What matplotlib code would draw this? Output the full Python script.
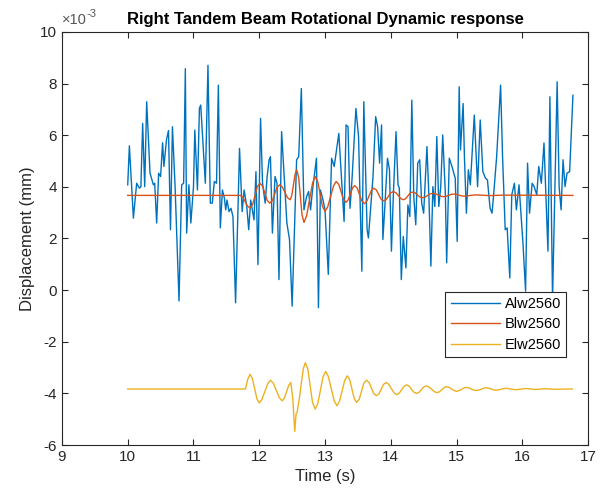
import matplotlib
matplotlib.use("Agg")
import matplotlib.pyplot as plt
from matplotlib.ticker import FuncFormatter

# Alw2560 (values in units of 1e-3 mm)
t_a = [10.00, 10.025, 10.086, 10.136, 10.177, 10.20, 10.227, 10.258, 10.288, 10.339,
       10.39, 10.41, 10.44, 10.47, 10.50, 10.53, 10.55, 10.59, 10.62, 10.65,
       10.68, 10.72, 10.78, 10.82, 10.85, 10.876, 10.896, 10.93, 10.96, 11.00,
       11.02, 11.06, 11.09, 11.11, 11.15, 11.18, 11.22, 11.256, 11.286, 11.317,
       11.35, 11.378, 11.408, 11.44, 11.47, 11.49, 11.51, 11.54, 11.57, 11.60,
       11.64, 11.70, 11.74, 11.77, 11.81, 11.84, 11.87, 11.92, 11.95, 11.98,
       12.02, 12.05, 12.09, 12.12, 12.15, 12.17, 12.20, 12.24, 12.27, 12.30,
       12.34, 12.39, 12.42, 12.46, 12.50, 12.568, 12.60, 12.64, 12.68, 12.72,
       12.75, 12.78, 12.81, 12.87, 12.90, 12.93, 12.97, 13.00, 13.05, 13.10,
       13.14, 13.21, 13.24, 13.29, 13.32, 13.35, 13.38, 13.41, 13.47, 13.51,
       13.56, 13.59, 13.64, 13.66, 13.73, 13.77, 13.80, 13.83, 13.86, 13.88,
       13.91, 13.95, 13.98, 14.01, 14.04, 14.08, 14.11, 14.13, 14.16, 14.19,
       14.23, 14.26, 14.29, 14.32, 14.35, 14.38, 14.41, 14.44, 14.47, 14.50,
       14.55, 14.58, 14.61, 14.64, 14.67, 14.70, 14.73, 14.76, 14.79, 14.83,
       14.85, 14.89, 14.93, 14.98, 15.01, 15.04, 15.06, 15.10, 15.12, 15.15,
       15.18, 15.21, 15.27, 15.32, 15.36, 15.40, 15.44, 15.47, 15.51, 15.54,
       15.57, 15.61, 15.67, 15.70, 15.74, 15.77, 15.81, 15.84, 15.88, 15.91,
       15.95, 15.98, 16.01, 16.05, 16.08, 16.11, 16.15, 16.18, 16.22, 16.25,
       16.29, 16.33, 16.36, 16.39, 16.42, 16.46, 16.50, 16.53, 16.56, 16.59,
       16.62, 16.65, 16.68, 16.72, 16.77]
v_a = [4.08, 5.59, 2.79, 4.14, 3.95, 4.00, 6.46, 4.01, 7.30, 4.53,
       4.08, 4.14, 2.60, 4.53, 4.40, 5.71, 4.79, 5.84, 6.18, 2.34,
       6.33, 4.01, -0.42, 4.08, 4.14, 8.58, 2.21, 4.08, 2.60, 4.01,
       6.20, 3.88, 7.04, 7.17, 5.43, 4.14, 8.71, 3.37, 3.37, 4.21,
       4.14, 7.94, 2.41, 3.88, 3.56, 3.11, 3.49, 3.04, 3.17, 2.85,
       -0.49, 5.49, 3.04, 3.88, 3.24, 2.34, 3.49, 2.72, 4.59, 0.99,
       6.65, 4.14, 3.37, 4.40, 5.05, 5.17, 2.21, 4.40, 4.14, 0.41,
       6.14, 3.88, 2.60, 1.96, -0.62, 5.05, 5.17, 7.81, 3.11, 3.62,
       3.82, 3.11, 3.88, 5.11, -0.68, 3.88, 3.49, 3.11, 0.61, 5.11,
       4.79, 6.07, 4.79, 2.66, 6.40, 6.33, 3.17, 4.27, 7.04, 5.95,
       0.73, 7.30, 2.34, 2.02, 4.40, 6.72, 6.33, 4.92, 6.40, 1.96,
       3.24, 5.11, 4.66, 1.51, 3.75, 6.14, 4.08, 3.95, 0.41, 2.08,
       0.86, 3.30, 2.85, 7.36, 3.62, 2.53, 4.92, 5.05, 3.37, 2.98,
       5.56, 3.62, 0.93, 4.01, 3.24, 5.95, 3.24, 4.01, 6.01, 3.75,
       1.06, 5.11, 4.79, 4.34, 1.89, 7.88, 5.43, 7.23, 5.17, 2.98,
       4.66, 4.08, 6.78, 4.01, 6.59, 4.59, 4.34, 4.27, 3.17, 2.98,
       3.88, 5.17, 7.94, 5.17, 2.34, 2.41, 0.47, 3.69, 4.14, 3.11,
       4.08, 2.98, 1.82, -0.04, 4.92, 2.98, 4.14, 4.01, 3.69, 4.79,
       4.14, 5.70, 3.62, 1.51, 7.49, -0.36, 4.40, 8.07, 4.01, 3.11,
       5.05, 4.01, 4.53, 4.59, 7.55]

# Blw2560
t_b = [10.00, 11.71, 11.75, 11.785, 11.82, 11.86, 11.90, 11.935, 11.97, 12.01,
       12.05, 12.085, 12.12, 12.16, 12.20, 12.235, 12.27, 12.31, 12.35, 12.39,
       12.43, 12.47, 12.495, 12.52, 12.545, 12.57, 12.60, 12.625, 12.65, 12.68,
       12.72, 12.765, 12.81, 12.85, 12.89, 12.925, 12.96, 13.00, 13.04, 13.085,
       13.13, 13.17, 13.21, 13.245, 13.28, 13.32, 13.35, 13.385, 13.42, 13.45,
       13.49, 13.525, 13.56, 13.60, 13.635, 13.67, 13.705, 13.74, 13.78, 13.815,
       13.85, 13.89, 13.93, 13.965, 14.00, 14.04, 14.08, 14.115, 14.15, 14.19,
       14.225, 14.26, 14.295, 14.33, 14.37, 14.405, 14.44, 14.48, 14.52, 14.56,
       14.60, 14.64, 14.68, 14.72, 14.76, 14.80, 14.84, 14.88, 14.92, 14.96,
       15.00, 15.04, 15.08, 15.12, 15.165, 15.21, 15.255, 15.30, 15.50, 15.70,
       16.77]
v_b = [3.67, 3.67, 3.60, 3.43, 3.26, 3.18, 3.32, 3.66, 4.00, 4.14,
       4.03, 3.76, 3.48, 3.37, 3.47, 3.73, 3.98, 4.08, 4.00, 3.79,
       3.58, 3.50, 3.67, 4.08, 4.49, 4.66, 4.36, 3.64, 2.92, 2.62,
       2.88, 3.51, 4.14, 4.40, 4.20, 3.73, 3.25, 3.05, 3.22, 3.63,
       4.04, 4.21, 4.09, 3.81, 3.52, 3.40, 3.49, 3.73, 3.96, 4.05,
       3.95, 3.70, 3.45, 3.35, 3.44, 3.65, 3.86, 3.95, 3.88, 3.71,
       3.53, 3.46, 3.51, 3.64, 3.77, 3.82, 3.77, 3.66, 3.55, 3.50,
       3.54, 3.65, 3.76, 3.80, 3.77, 3.69, 3.61, 3.58, 3.60, 3.67,
       3.73, 3.75, 3.73, 3.69, 3.64, 3.62, 3.63, 3.67, 3.71, 3.72,
       3.71, 3.68, 3.65, 3.64, 3.65, 3.67, 3.68, 3.69, 3.66, 3.68,
       3.67]

# Elw2560
t_e = [10.00, 11.79, 11.825, 11.86, 11.895, 11.93, 11.965, 12.00, 12.04, 12.085,
       12.13, 12.17, 12.215, 12.26, 12.305, 12.35, 12.38, 12.415, 12.45, 12.48,
       12.51, 12.54, 12.56, 12.575, 12.61, 12.64, 12.67, 12.70, 12.74, 12.775,
       12.81, 12.85, 12.89, 12.93, 12.97, 13.01, 13.05, 13.095, 13.14, 13.18,
       13.22, 13.26, 13.30, 13.34, 13.375, 13.41, 13.445, 13.48, 13.52, 13.555,
       13.59, 13.63, 13.67, 13.705, 13.74, 13.78, 13.82, 13.855, 13.89, 13.93,
       13.97, 14.01, 14.05, 14.09, 14.13, 14.165, 14.20, 14.24, 14.28, 14.315,
       14.35, 14.39, 14.43, 14.465, 14.50, 14.54, 14.58, 14.62, 14.66, 14.70,
       14.74, 14.775, 14.81, 14.85, 14.89, 14.925, 14.96, 15.00, 15.04, 15.075,
       15.11, 15.15, 15.19, 15.225, 15.26, 15.30, 15.34, 15.375, 15.41, 15.45,
       15.49, 15.525, 15.56, 15.60, 15.75, 15.90, 16.05, 16.20, 16.35, 16.50,
       16.76]
v_e = [-3.83, -3.83, -3.45, -3.26, -3.42, -3.82, -4.21, -4.37, -4.24, -3.93,
       -3.62, -3.49, -3.61, -3.89, -4.17, -4.29, -4.19, -3.94, -3.68, -3.58,
       -4.20, -5.47, -4.80, -4.74, -4.20, -3.60, -3.05, -2.81, -3.07, -3.71,
       -4.35, -4.61, -4.40, -3.88, -3.36, -3.15, -3.34, -3.82, -4.29, -4.48,
       -4.31, -3.90, -3.49, -3.32, -3.47, -3.84, -4.20, -4.35, -4.23, -3.92,
       -3.61, -3.49, -3.58, -3.79, -4.00, -4.09, -4.02, -3.84, -3.65, -3.58,
       -3.65, -3.82, -3.98, -4.05, -3.99, -3.86, -3.73, -3.67, -3.72, -3.84,
       -3.95, -4.00, -3.96, -3.86, -3.75, -3.71, -3.75, -3.84, -3.93, -3.97,
       -3.94, -3.86, -3.77, -3.74, -3.77, -3.83, -3.89, -3.92, -3.89, -3.85,
       -3.79, -3.77, -3.79, -3.83, -3.87, -3.89, -3.87, -3.84, -3.80, -3.78,
       -3.80, -3.83, -3.86, -3.88, -3.80, -3.86, -3.81, -3.85, -3.82, -3.84,
       -3.83]

labels = ["Alw2560", "Blw2560", "Elw2560"]
colors = ["#0072BD", "#D95319", "#EDB120"]

plt.rcParams.update({
    "font.family": ["Liberation Sans", "DejaVu Sans"],
    "font.size": 11,
    "axes.unicode_minus": False,
    "axes.edgecolor": "#262626",
    "xtick.color": "#262626",
    "ytick.color": "#262626",
    "xtick.direction": "in",
    "ytick.direction": "in",
})

fig = plt.figure(figsize=(6.04, 4.99), dpi=100)
ax = fig.add_axes([0.1026, 0.1082, 0.871, 0.8277])

for t, v, lab, c in zip([t_a, t_b, t_e], [v_a, v_b, v_e], labels, colors):
    ax.plot(t, [x * 1e-3 for x in v], color=c, lw=1.0, label=lab)

ax.set_xlim(9, 17)
ax.set_ylim(-6e-3, 10e-3)
ax.set_xticks(range(9, 18))
ax.set_yticks([k * 1e-3 for k in range(-6, 11, 2)])
ax.yaxis.set_major_formatter(FuncFormatter(lambda y, p: "%d" % round(y * 1e3)))
ax.tick_params(top=True, right=True, length=4, labelsize=11)

# MATLAB style exponent label above the y axis
t1 = ax.text(0.0, 1.012, "\u00d710", transform=ax.transAxes, fontsize=10.5,
             color="#555555", ha="left", va="bottom")
ax.annotate("-3", xy=(1, 0.55), xycoords=t1, fontsize=8, color="#555555",
            ha="left", va="bottom")

ax.set_xlabel("Time (s)", fontsize=12, color="#262626")
ax.set_ylabel("Displacement (mm)", fontsize=12, color="#262626")
ax.set_title("Right Tandem Beam Rotational Dynamic response", fontsize=12,
             fontweight="bold", pad=6)

leg = ax.legend(loc="lower right", bbox_to_anchor=(0.958, 0.213), fontsize=10.5,
                fancybox=False, framealpha=1, edgecolor="#262626",
                handlelength=3.4, borderpad=0.35, labelspacing=0.45,
                handletextpad=0.3, borderaxespad=0.0)
leg.get_frame().set_linewidth(0.8)

fig.savefig("out.png", dpi=100)
